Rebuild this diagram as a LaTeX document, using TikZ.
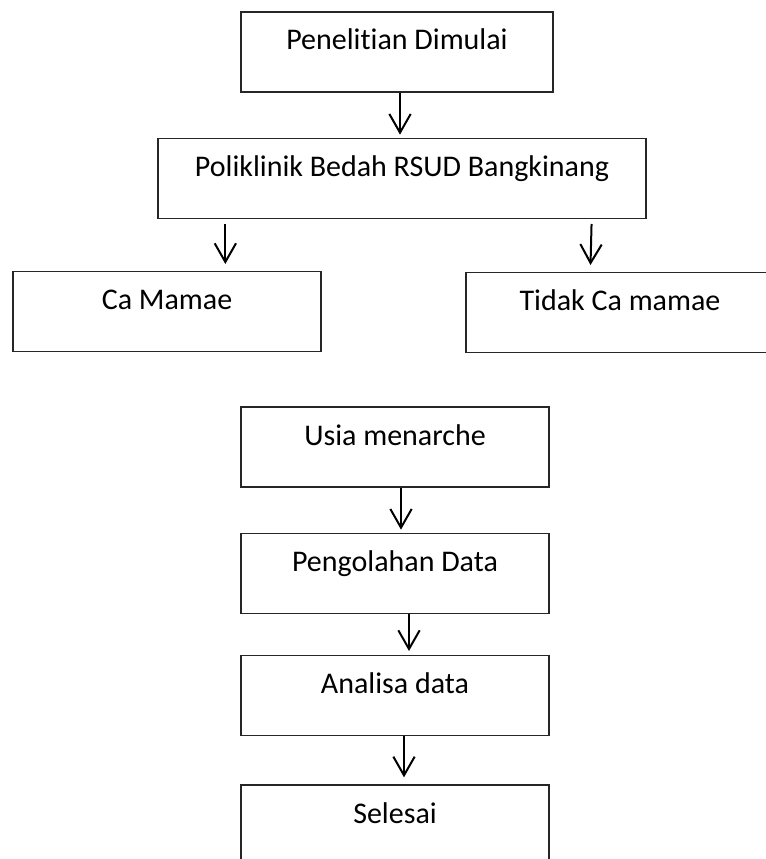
\documentclass[tikz,border=0pt]{standalone}
\usepackage{fontspec}
\setmainfont{Carlito}[Ligatures=CommonOff]
\usepackage{tikz}
\usetikzlibrary{arrows.meta, positioning}
\tikzset{
  stage/.style={rectangle,draw=black!85,line width=1pt,inner xsep=0pt,inner ysep=0pt,minimum width=231pt,text height=28.5pt,text depth=31.5pt,font=\fontsize{22.5}{26}\selectfont},
  stagewide/.style={stage,minimum width=366pt},
  flow/.style={line width=1.5pt,-{Straight Barb[length=14pt,width=16pt]}},
}

\begin{document}
\begin{tikzpicture}
	    \useasboundingbox (0,0) rectangle (574.5pt,-644.25pt);
	    \clip (0,0) rectangle (574.5pt,-644.25pt);
	    \node[stage,minimum width=234pt] (start) at (297.75pt,-39pt) {Penelitian Dimulai};
	    \node[stagewide,below=33.75pt of start,xshift=3.75pt] (poli) {Poliklinik Bedah RSUD Bangkinang};
	    \node[stage,below=39pt of poli,xshift=-176.25pt] (ca) {Ca Mamae};
	    \node[stage,below=39.75pt of poli,xshift=163.5pt] (nonca) {Tidak Ca mamae};
	    \node[stage] (usia) at (296.25pt,-335.25pt) {Usia menarche};
	    \node[stage,below=33.75pt of usia] (olah) {Pengolahan Data};
	    \node[stage,below=30.75pt of olah] (analisa) {Analisa data};
	    \node[stage,below=36pt of analisa] (selesai) {Selesai};
	    \draw[flow,shorten >=2.25pt] ([xshift=2.25pt]start.south) -- ([xshift=-1.5pt]poli.north);
	    \draw[flow,shorten <=3.75pt,shorten >=5.25pt] ([xshift=51pt]poli.south west) -- ([xshift=159.75pt]ca.north west);
	    \draw[flow,shorten <=3.75pt,shorten >=5.25pt] ([xshift=-41.25pt]poli.south east) -- ([xshift=93.75pt]nonca.north west);
	    \draw[flow,shorten >=2.25pt] ([xshift=4.5pt]usia.south) -- ([xshift=4.5pt]olah.north);
	    \draw[flow,shorten >=3pt] ([xshift=10.5pt]olah.south) -- ([xshift=10.5pt]analisa.north);
	    \draw[flow,shorten >=5.25pt] ([xshift=6.75pt]analisa.south) -- ([xshift=6.75pt]selesai.north);
	\end{tikzpicture}
\end{document}
